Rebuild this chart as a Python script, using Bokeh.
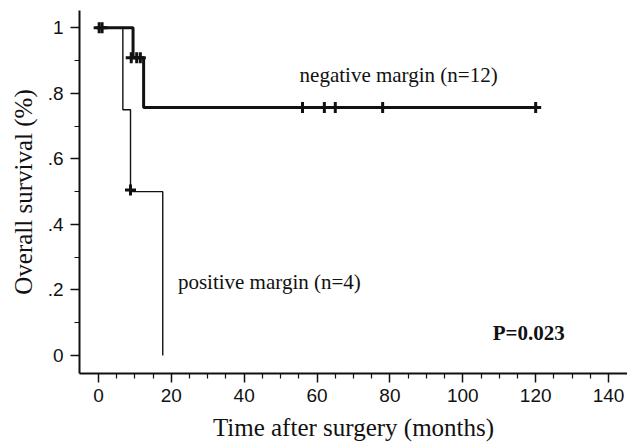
from bokeh.plotting import figure
from bokeh.models import Range1d, FixedTicker, Label, CustomJSTickFormatter
from bokeh.embed import file_html
from bokeh.resources import INLINE

# ---- data ----
neg_times = [0, 9.5, 12.4, 120]
neg_surv = [1.0, 0.909, 0.757, 0.757]
neg_cens_t = [0.2, 1.0, 9.0, 10.5, 11.5, 56, 62, 65, 78, 120]
neg_cens_s = [1.0, 1.0, 0.909, 0.909, 0.909, 0.757, 0.757, 0.757, 0.757, 0.757]

pos_times = [0, 6.7, 8.8, 17.65]
pos_surv = [1.0, 0.75, 0.5, 0.0]
pos_cens_t = [8.8]
pos_cens_s = [0.505]

x_ticks = [0, 20, 40, 60, 80, 100, 120, 140]
x_minor = [v for v in range(5, 145, 5) if v % 20 != 0]
y_ticks = [0, 0.2, 0.4, 0.6, 0.8, 1]
y_tick_labels = ["0", ".2", ".4", ".6", ".8", "1"]
y_minor = [0.1, 0.3, 0.5, 0.7, 0.9]

neg_label = "negative margin (n=12)"
pos_label = "positive margin (n=4)"
p_label = "P=0.023"

SERIF = "Liberation Serif"
SANS = "Liberation Sans"

p = figure(width=627, height=448, output_backend="svg", toolbar_location=None,
           x_range=Range1d(-5.2, 145.2), y_range=Range1d(-0.055, 1.053),
           min_border_left=79, min_border_right=0, min_border_top=10,
           min_border_bottom=75, x_axis_label="Time after surgery (months)",
           y_axis_label="Overall survival (%)")
p.outline_line_color = None
p.grid.visible = False
p.background_fill_color = "white"
p.border_fill_color = "white"

p.step(pos_times, pos_surv, mode="after", line_color="#111111", line_width=1.4)
p.step(neg_times, neg_surv, mode="after", line_color="#111111", line_width=3)
p.scatter(neg_cens_t, neg_cens_s, marker="cross", size=11, line_width=3,
          line_color="#111111")
p.scatter(pos_cens_t, pos_cens_s, marker="cross", size=11, line_width=3,
          line_color="#111111")

for ax in (p.xaxis[0], p.yaxis[0]):
    ax.axis_line_width = 2
    ax.axis_line_color = "#111111"
    ax.major_tick_line_color = "#111111"
    ax.minor_tick_line_color = "#111111"
    ax.major_tick_line_width = 1.5
    ax.minor_tick_line_width = 1.2
    ax.major_tick_out = 9
    ax.major_tick_in = 0
    ax.minor_tick_out = 5
    ax.minor_tick_in = 0
    ax.major_label_text_font = SANS
    ax.major_label_text_font_size = "19px"
    ax.major_label_text_color = "#111111"
    ax.axis_label_text_font = SERIF
    ax.axis_label_text_font_size = "25px"
    ax.axis_label_text_font_style = "normal"
    ax.axis_label_text_color = "#111111"

p.xaxis[0].ticker = FixedTicker(ticks=x_ticks, minor_ticks=x_minor)
p.yaxis[0].ticker = FixedTicker(ticks=y_ticks, minor_ticks=y_minor)
p.yaxis[0].formatter = CustomJSTickFormatter(
    args=dict(vals=y_ticks, labs=y_tick_labels),
    code="""
    for (let i = 0; i < vals.length; i++) {
      if (Math.abs(vals[i] - tick) < 1e-6) { return labs[i]; }
    }
    return String(tick);
    """)
p.yaxis[0].major_label_orientation = "horizontal"
p.xaxis[0].major_label_standoff = 6
p.yaxis[0].major_label_standoff = 7
p.xaxis[0].axis_label_standoff = 9
p.yaxis[0].axis_label_standoff = 8

p.add_layout(Label(x=55.2, y=0.855, text=neg_label, text_font=SERIF,
                   text_font_size="21px", text_color="#111111",
                   text_baseline="alphabetic"))
p.add_layout(Label(x=21.8, y=0.224, text=pos_label, text_font=SERIF,
                   text_font_size="21px", text_color="#111111",
                   text_baseline="alphabetic"))
p.add_layout(Label(x=108.2, y=0.069, text=p_label, text_font=SERIF,
                   text_font_size="21px", text_font_style="bold",
                   text_color="#111111", text_baseline="alphabetic"))

open("out.html", "w").write(file_html(p, INLINE))
